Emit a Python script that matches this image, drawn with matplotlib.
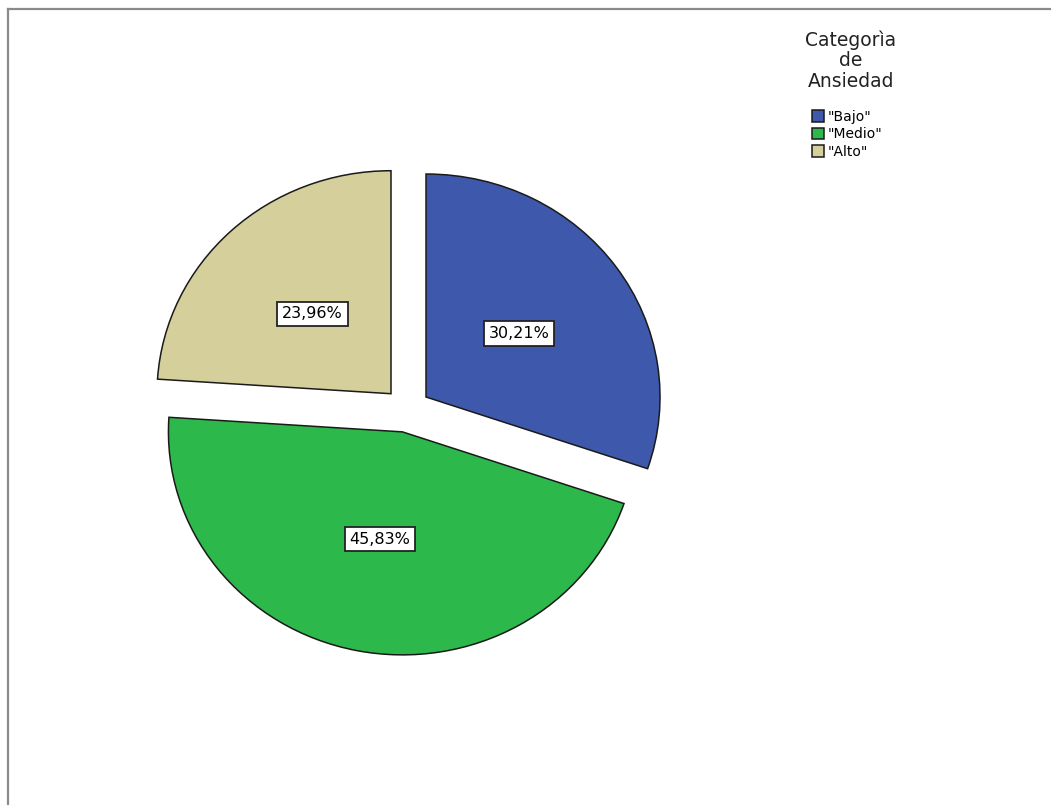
import matplotlib
matplotlib.use("Agg")
import matplotlib.pyplot as plt
from matplotlib.lines import Line2D

# anxiety category counts (n = 96)
categorias = ['"Bajo"', '"Medio"', '"Alto"']
frecuencias = [29, 44, 23]
colores = ['#3E58AC', '#2DB84B', '#D4CF9B']
titulo_leyenda = 'Categorìa\nde\nAnsiedad'

W, H = 1051, 805
fig = plt.figure(figsize=(W / 100, H / 100), dpi=100)
fig.patch.set_facecolor('white')

# pie centre (px from top-left) and radii in px
cx, cy = 407, 410
rx, ry = 234, 223
half = 300
ax = fig.add_axes([(cx - half) / W, (H - cy - half) / H, 2 * half / W, 2 * half / H])

wedges, texts, autotexts = ax.pie(
    frecuencias,
    colors=colores,
    startangle=90,
    counterclock=False,
    explode=[0.1] * len(frecuencias),
    autopct=lambda p: f'{p:.2f}%'.replace('.', ','),
    pctdistance=0.49,
    wedgeprops=dict(edgecolor='#1a1a1a', linewidth=1.1),
    textprops=dict(fontsize=11.5, color='black', family='DejaVu Sans'),
)
for t in autotexts:
    t.set_bbox(dict(boxstyle='square,pad=0.3', facecolor='white',
                    edgecolor='#222222', linewidth=1.3))

ax.set_aspect('auto')
ax.set_xlim(-half / rx, half / rx)
ax.set_ylim(-half / ry, half / ry)
ax.axis('off')

# legend title and entries
fig.text(851 / W, 1 - 30 / H, titulo_leyenda, ha='center', va='top',
         multialignment='center', fontsize=13.5, linespacing=1.12,
         color='#222222', family='DejaVu Sans')
fig.legend(wedges, categorias, loc='upper left',
           bbox_to_anchor=(802 / W, 1 - 100 / H), frameon=False,
           handlelength=0.9, handleheight=0.9,
           handletextpad=0.25, labelspacing=0.25, borderpad=0.2,
           prop=dict(family='DejaVu Sans', size=10))

# outer frame (left and top edges)
fig.add_artist(Line2D([8 / W, 8 / W], [0, 1 - 9 / H], color='#8a8a8a', linewidth=1.6))
fig.add_artist(Line2D([8 / W, 1], [1 - 9 / H, 1 - 9 / H], color='#8a8a8a', linewidth=1.6))

fig.savefig('out.png', dpi=100, facecolor='white')
